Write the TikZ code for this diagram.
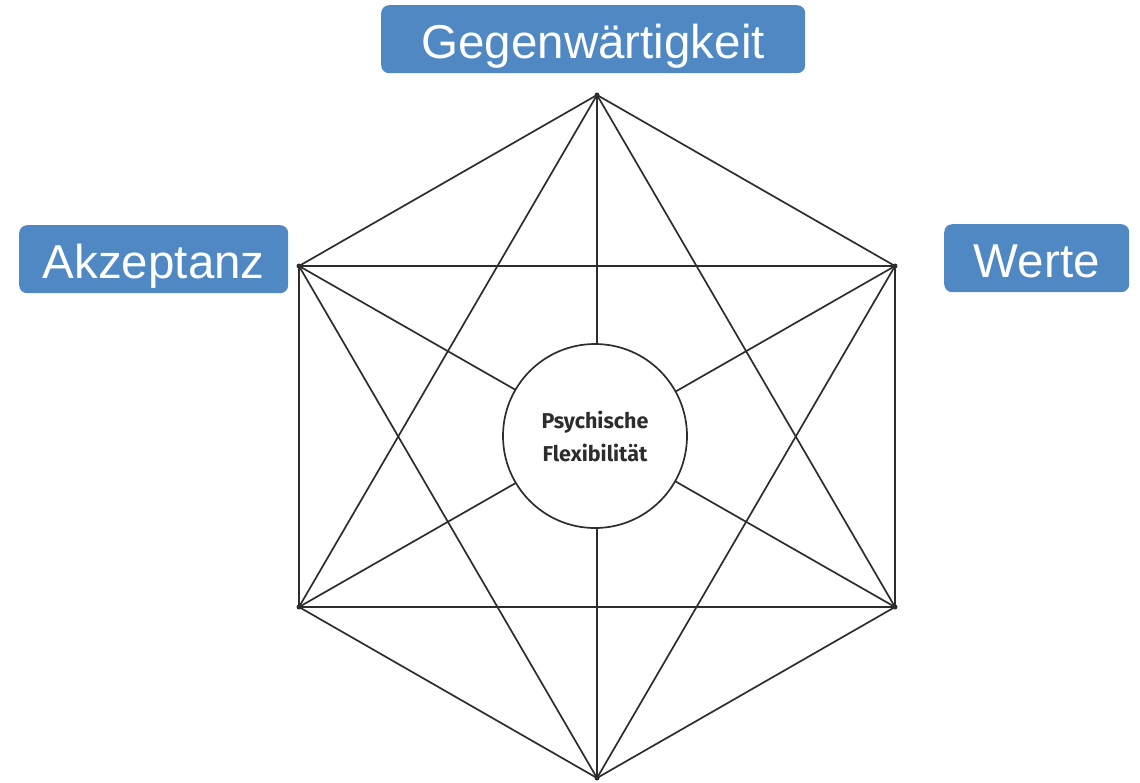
\documentclass[tikz,border=0pt]{standalone}
\usepackage{fontspec}
\setmainfont{Liberation Sans}
\newfontfamily\circfont{Fira Sans}
\definecolor{boxblue}{RGB}{79,136,194}
\definecolor{linegray}{RGB}{45,45,45}
\begin{document}
\begin{tikzpicture}[x=1pt,y=-1pt,
  edge/.style={draw=linegray,line width=1.7pt},
  lbl/.style={fill=boxblue,rounded corners=8pt,text=white,font=\fontsize{47.5}{52}\selectfont,inner sep=0pt,text height=41pt,text depth=3pt,anchor=north west}]
\useasboundingbox (0,0) rectangle (1140,782);
\coordinate (T) at (597,95);
\coordinate (UL) at (299,266);
\coordinate (UR) at (895,266);
\coordinate (LL) at (299,607);
\coordinate (LR) at (895,607);
\coordinate (B) at (597,778);
\foreach \a/\b in {T/UL,T/UR,T/LL,T/LR,T/B,UL/UR,UL/LL,UL/LR,UL/B,UR/LL,UR/LR,UR/B,LL/LR,LL/B,LR/B}
  \draw[edge] (\a) -- (\b);
\foreach \p in {T,UL,UR,LL,LR,B} \fill[linegray] (\p) circle (2.5pt);
\node[circle,draw=linegray,line width=1.7pt,fill=white,minimum size=184pt,inner sep=0pt,
  font=\circfont\bfseries\fontsize{21.5}{33}\selectfont,text=linegray,align=center] (C) at (595,436) {Psychische\\Flexibilität};
\node[lbl,minimum width=424pt,minimum height=68pt] (G) at (381,5) {Gegenwärtigkeit};
\node[lbl,minimum width=269pt,minimum height=68pt] (A) at (19,225) {Akzeptanz};
\node[lbl,minimum width=185pt,minimum height=68pt] (W) at (944,224) {Werte};
\end{tikzpicture}
\end{document}
